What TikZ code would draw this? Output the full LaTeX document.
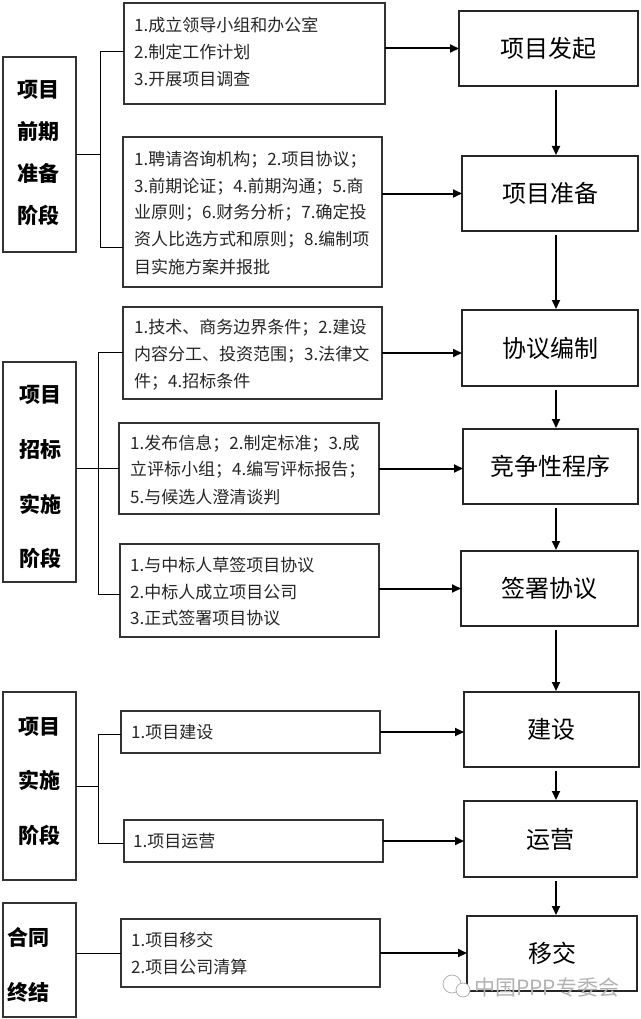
\documentclass[tikz,border=0pt]{standalone}
\usepackage{fontspec}
\newfontfamily\cjk{Noto Sans CJK SC}
\usetikzlibrary{arrows.meta}
\begin{document}
\begin{tikzpicture}[x=1pt,y=-1pt,
  boxbase/.style={draw=black!80, line width=1.1pt, inner sep=0pt, outer sep=0pt, anchor=north west},
  sub/.style={boxbase},
  main/.style={boxbase, draw=black!85, font=\cjk\fontsize{24}{28}\selectfont},
  stage/.style={boxbase},
  stxt/.style={font=\cjk\bfseries\fontsize{21}{24}\selectfont, inner sep=0pt},
  ln/.style={anchor=west, inner sep=0pt, font=\cjk\fontsize{17}{20}\selectfont, text=black!85},
  br/.style={line width=1pt},
  arr/.style={line width=2pt, -{Triangle[length=9pt,width=8pt]}},
  varr/.style={arr, shorten <=4pt, shorten >=1pt},
]
\useasboundingbox (0,0) rectangle (640,1019);
\fill[white] (0,0) rectangle (640,1019);

% stage boxes
\node[stage, minimum width=73pt, minimum height=195pt] (st1) at (3,57) {};
\node[stage, minimum width=73pt, minimum height=220pt] (st2) at (3,362) {};
\node[stage, minimum width=73pt, minimum height=188pt] (st3) at (3,692) {};
\node[stage, minimum width=73pt, minimum height=114pt] (st4) at (3,903) {};

\node[stxt] (t1a) at (38,90) {项目};
\node[stxt] (t1b) at (38,132) {前期};
\node[stxt] (t1c) at (38,173) {准备};
\node[stxt] (t1d) at (38,215) {阶段};
\node[stxt] (t2a) at (40,395) {项目};
\node[stxt] (t2b) at (40,450) {招标};
\node[stxt] (t2c) at (40,504) {实施};
\node[stxt] (t2d) at (40,558) {阶段};
\node[stxt] (t3a) at (39,727) {项目};
\node[stxt] (t3b) at (39,780) {实施};
\node[stxt] (t3c) at (39,835) {阶段};
\node[stxt] (t4a) at (29,937) {合同};
\node[stxt] (t4b) at (29,992) {终结};

% sub boxes
\node[sub, minimum width=261pt, minimum height=101pt] (s1) at (124,3) {};
\node[sub, minimum width=259pt, minimum height=150pt] (s2) at (123,137) {};
\node[sub, minimum width=259pt, minimum height=92pt] (s3) at (123,307) {};
\node[sub, minimum width=260pt, minimum height=91pt] (s4) at (119,423) {};
\node[sub, minimum width=259pt, minimum height=93pt] (s5) at (120,544) {};
\node[sub, minimum width=259pt, minimum height=42pt] (s6) at (121,711) {};
\node[sub, minimum width=259pt, minimum height=42pt] (s7) at (124,820) {};
\node[sub, minimum width=259pt, minimum height=68pt] (s8) at (121,919) {};

\node[ln] (l1a) at (134,25) {1.成立领导小组和办公室};
\node[ln] (l1b) at (134,52) {2.制定工作计划};
\node[ln] (l1c) at (134,79) {3.开展项目调查};

\node[ln] (l2a) at (134,160) {1.聘请咨询机构；2.项目协议；};
\node[ln] (l2b) at (134,187) {3.前期论证；4.前期沟通；5.商};
\node[ln] (l2c) at (134,213) {业原则；6.财务分析；7.确定投};
\node[ln] (l2d) at (134,240) {资人比选方式和原则；8.编制项};
\node[ln] (l2e) at (134,267) {目实施方案并报批};

\node[ln] (l3a) at (134,328) {1.技术、商务边界条件；2.建设};
\node[ln] (l3b) at (134,355) {内容分工、投资范围；3.法律文};
\node[ln] (l3c) at (134,382) {件；4.招标条件};

\node[ln] (l4a) at (130,444) {1.发布信息；2.制定标准；3.成};
\node[ln] (l4b) at (130,470) {立评标小组；4.编写评标报告；};
\node[ln] (l4c) at (130,497) {5.与候选人澄清谈判};

\node[ln] (l5a) at (130,565) {1.与中标人草签项目协议};
\node[ln] (l5b) at (130,592) {2.中标人成立项目公司};
\node[ln] (l5c) at (130,618) {3.正式签署项目协议};

\node[ln] (l6a) at (131,732) {1.项目建设};
\node[ln] (l7a) at (133,841) {1.项目运营};
\node[ln] (l8a) at (131,940) {1.项目移交};
\node[ln] (l8b) at (131,967) {2.项目公司清算};

% main boxes
\node[main, minimum width=179pt, minimum height=75pt] (m1) at (459,11) {项目发起};
\node[main, minimum width=176pt, minimum height=75pt] (m2) at (462,156) {项目准备};
\node[main, minimum width=176pt, minimum height=76pt] (m3) at (462,310) {协议编制};
\node[main, minimum width=175pt, minimum height=75pt] (m4) at (463,429) {竞争性程序};
\node[main, minimum width=177pt, minimum height=75pt] (m5) at (461,551) {签署协议};
\node[main, minimum width=175pt, minimum height=75pt] (m6) at (464,692) {建设};
\node[main, minimum width=173pt, minimum height=76pt] (m7) at (464,801) {运营};
\node[main, minimum width=170pt, minimum height=75pt] (m8) at (467,916) {移交};

% brackets
\coordinate (j1a) at (100,52);
\coordinate (j1b) at (100,247);
\draw[br] (s1.west |- j1a) -- (j1a) -- (j1b) -- (s2.west |- j1b);
\draw[br] (st1.east) -- (st1.east -| j1a);

\coordinate (j2a) at (98,352);
\coordinate (j2b) at (98,594);
\draw[br] (s3.west |- j2a) -- (j2a) -- (j2b) -- (s5.west |- j2b);
\draw[br] (st2.east |- s4.west) -- (s4.west);

\coordinate (j3a) at (98,734);
\coordinate (j3b) at (98,843);
\draw[br] (s6.west |- j3a) -- (j3a) -- (j3b) -- (s7.west |- j3b);
\draw[br] (st3.east) -- (st3.east -| j3a);

\draw[br] (st4.east |- s8.west) -- (s8.west);

% horizontal arrows
\draw[arr] (s1.east |- m1.west) -- (m1.west);
\draw[arr] (s2.east |- m2.west) -- (m2.west);
\draw[arr] (s3.east) -- (s3.east -| m3.west);
\draw[arr] (s4.east) -- (s4.east -| m4.west);
\draw[arr] (s5.east |- m5.west) -- (m5.west);
\draw[arr] (s6.east) -- (s6.east -| m6.west);
\draw[arr] (s7.east) -- (s7.east -| m7.west);
\draw[arr] (s8.east) -- (s8.east -| m8.west);

% vertical arrows
\coordinate (ax) at (556,0);
\draw[varr] (m1.south -| ax) -- (m2.north -| ax);
\draw[varr] (m2.south -| ax) -- (m3.north -| ax);
\draw[varr] (m3.south -| ax) -- (m4.north -| ax);
\draw[varr] (m4.south -| ax) -- (m5.north -| ax);
\draw[varr] (m5.south -| ax) -- (m6.north -| ax);
\draw[varr] (m6.south -| ax) -- (m7.north -| ax);
\draw[varr] (m7.south -| ax) -- (m8.north -| ax);

% watermark
\draw[black!30, line width=0.8pt, fill=white] (452,984) circle (9pt);
\draw[black!30, line width=0.8pt, fill=white] (463,990) circle (7pt);
\node[anchor=west, inner sep=0pt, font=\cjk\fontsize{21}{24}\selectfont, text=black!30] (wm) at (474,987) {中国PPP专委会};
\end{tikzpicture}
\end{document}
